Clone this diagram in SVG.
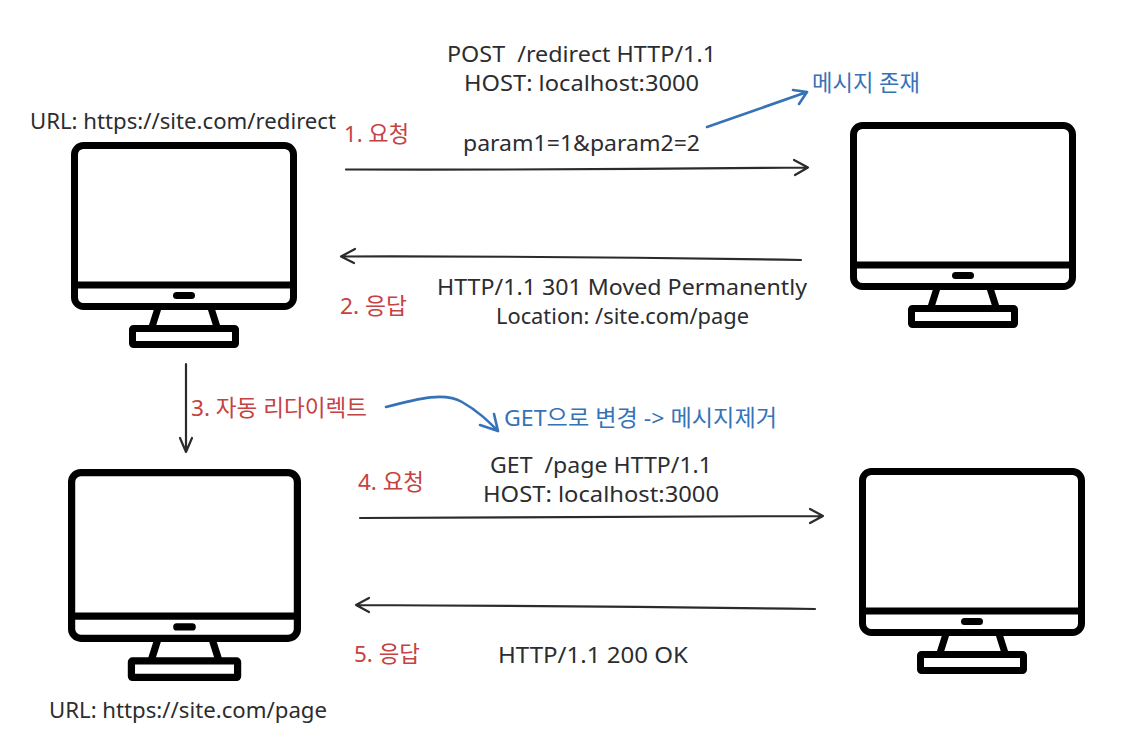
<svg xmlns="http://www.w3.org/2000/svg" width="1134" height="732" viewBox="0 0 1134 732">
<style>
text{font-family:"Noto Sans","Noto Sans CJK KR",sans-serif;font-size:22.500px;white-space:pre}
.k{fill:#2b2d30}.r{fill:#c64242}.b{fill:#3672b8}
.conn path{fill:none;stroke:#2b2b2b;stroke-width:2.200;stroke-linecap:round;stroke-linejoin:round}
.conn path.bl{stroke:#3672b8;stroke-width:2.600}
.mon *{fill:none;stroke:#000;stroke-width:7;stroke-linejoin:round}
.mon .p{fill:#000;stroke:none}
</style>
<defs>
<g id="monitor" class="mon">
<rect x="74.500" y="145.500" width="219" height="161" rx="9"/>
<path d="M74.500 285H293.500"/>
<rect class="p" x="173" y="292" width="22" height="7" rx="3.500"/>
<path d="M158 308L152 327M211 308L217 327"/>
<rect x="132.500" y="328.500" width="103" height="16" rx="1"/>
</g>
</defs>
<rect width="1134" height="732" fill="#fff"/>
<g id="node-client-1"><use href="#monitor"/></g>
<g id="node-server-1"><use href="#monitor" transform="translate(779 -20)"/></g>
<g id="node-client-2"><use href="#monitor" transform="translate(-5.200 322.900) scale(1.031 1.029)"/></g>
<g id="node-server-2"><use href="#monitor" transform="translate(788 326)"/></g>
<g class="conn" id="connectors">
<path d="M346 169.500Q580 170 808 167.500M794 160L808 167.500L795 175"/>
<path d="M801 260Q570 256 341 256.500M355 249L341 256.500L354 263"/>
<path d="M186 364L186 452M180 438L186 452L192 438"/>
<path d="M360 518Q590 518 823 516M810 509L823 516L810 523"/>
<path d="M815 609Q590 606 356 605M369 598L356 605L369 612"/>
<path class="bl" d="M707 127L807 92M793 90L807 92L799 104"/>
<path class="bl" d="M386 407C420 398 445 392 462 402C478 411 488 421 498 431M480 425L498 431L494 414"/>
</g>
<g id="labels">
<text class="k" x="30" y="129" textLength="306" lengthAdjust="spacingAndGlyphs">URL: https://site.com/redirect</text>
<text class="k" x="447" y="62" textLength="269" lengthAdjust="spacingAndGlyphs">POST  /redirect HTTP/1.1</text>
<text class="k" x="464" y="91" textLength="235" lengthAdjust="spacingAndGlyphs">HOST: localhost:3000</text>
<text class="k" x="463" y="151" textLength="237" lengthAdjust="spacingAndGlyphs">param1=1&amp;param2=2</text>
<text class="k" x="437" y="295" textLength="370" lengthAdjust="spacingAndGlyphs">HTTP/1.1 301 Moved Permanently</text>
<text class="k" x="496" y="324" textLength="253" lengthAdjust="spacingAndGlyphs">Location: /site.com/page</text>
<text class="k" x="490" y="473" textLength="222" lengthAdjust="spacingAndGlyphs">GET  /page HTTP/1.1</text>
<text class="k" x="483" y="502" textLength="236" lengthAdjust="spacingAndGlyphs">HOST: localhost:3000</text>
<text class="k" x="498" y="663" textLength="190" lengthAdjust="spacingAndGlyphs">HTTP/1.1 200 OK</text>
<text class="k" x="49" y="718" textLength="278" lengthAdjust="spacingAndGlyphs">URL: https://site.com/page</text>
<text class="r" x="344" y="142" textLength="65" lengthAdjust="spacingAndGlyphs">1. 요청</text>
<text class="r" x="340" y="314" textLength="67" lengthAdjust="spacingAndGlyphs">2. 응답</text>
<text class="r" x="191" y="416" textLength="176" lengthAdjust="spacingAndGlyphs">3. 자동 리다이렉트</text>
<text class="r" x="358" y="490" textLength="66" lengthAdjust="spacingAndGlyphs">4. 요청</text>
<text class="r" x="354" y="662" textLength="66" lengthAdjust="spacingAndGlyphs">5. 응답</text>
<text class="b" x="812" y="91" textLength="108" lengthAdjust="spacingAndGlyphs">메시지 존재</text>
<text class="b" x="504" y="426" textLength="273" lengthAdjust="spacingAndGlyphs">GET으로 변경 -&gt; 메시지제거</text>
</g>
</svg>
